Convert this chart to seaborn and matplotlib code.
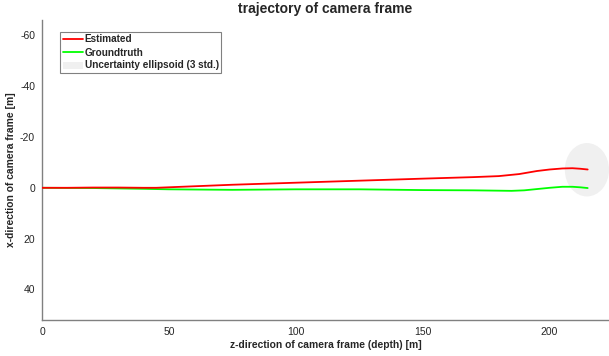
import numpy as np
import pandas as pd
import seaborn as sns
import matplotlib.pyplot as plt
from matplotlib.patches import Ellipse

# trajectory (z = depth, x = lateral) [m]
est_z = [0, 10, 20, 30, 40, 45, 50, 60, 75, 100, 125, 150, 170, 180, 188, 195, 200, 205, 209, 212, 215]
est_x = [0, 0, -0.1, -0.1, 0, 0, -0.2, -0.6, -1.2, -2.0, -2.8, -3.6, -4.2, -4.6, -5.4, -6.6, -7.2, -7.6, -7.7, -7.5, -7.2]
gt_z = [0, 20, 40, 50, 75, 100, 125, 150, 170, 185, 190, 195, 200, 205, 209, 212, 215]
gt_x = [0, 0.1, 0.4, 0.6, 0.8, 0.6, 0.6, 0.9, 1.0, 1.2, 1.0, 0.5, 0.0, -0.4, -0.4, -0.2, 0.1]

# final 3-std uncertainty ellipse: center (z, x), width (z), height (x)
ell_center = (214.7, -7.1)
ell_width = 17.4
ell_height = 21.0

sns.set_style("white")
plt.rcParams['font.family'] = ['Liberation Sans', 'DejaVu Sans']
plt.rcParams['axes.unicode_minus'] = False

AX_COLOR = '#808080'
TXT_COLOR = '#262626'

est = pd.DataFrame({'z': est_z, 'x': est_x})
gt = pd.DataFrame({'z': gt_z, 'x': gt_x})

fig = plt.figure(figsize=(6.09, 3.56), dpi=100)
ax = fig.add_axes([42 / 609, 36 / 356, 1 - 42 / 609, 300 / 356])

ell = Ellipse(ell_center, ell_width, ell_height, facecolor='#f0f0f0',
              edgecolor='none', zorder=1, label='Uncertainty ellipsoid (3 std.)')
ax.add_patch(ell)

sns.lineplot(data=est, x='z', y='x', sort=False, color='red', lw=1.3,
             ax=ax, label='Estimated', zorder=3)
sns.lineplot(data=gt, x='z', y='x', sort=False, color='#00ff00', lw=1.3,
             ax=ax, label='Groundtruth', zorder=2)

ax.set_xlim(0, 223.4)
ax.set_ylim(52, -66)
ax.set_xticks([0, 50, 100, 150, 200])
ax.set_yticks([-60, -40, -20, 0, 20, 40])

for s in ['top', 'right']:
    ax.spines[s].set_visible(False)
for s in ['left', 'bottom']:
    ax.spines[s].set_color(AX_COLOR)
    ax.spines[s].set_linewidth(1.0)
ax.tick_params(direction='in', length=4, width=0.8, color=AX_COLOR,
               labelcolor=TXT_COLOR, labelsize=7.5, pad=5)

ax.set_title('trajectory of camera frame', fontsize=10, fontweight='bold', pad=5)
ax.set_xlabel('z-direction of camera frame (depth) [m]', fontsize=7.4,
              fontweight='bold', labelpad=2)
ax.set_ylabel('x-direction of camera frame [m]', fontsize=7.4,
              fontweight='bold', labelpad=3)

handles, labels = ax.get_legend_handles_labels()
order = [labels.index(l) for l in ['Estimated', 'Groundtruth', 'Uncertainty ellipsoid (3 std.)']]
leg = ax.legend([handles[i] for i in order], [labels[i] for i in order],
                loc='upper left', bbox_to_anchor=(0.032, 0.96), fancybox=False,
                framealpha=1, edgecolor=AX_COLOR, prop={'weight': 'bold', 'size': 7.2},
                borderpad=0.25, labelspacing=0.3, handlelength=2.0, handletextpad=0.2,
                borderaxespad=0)
leg.get_frame().set_linewidth(0.8)

fig.savefig('out.png', dpi=100)
